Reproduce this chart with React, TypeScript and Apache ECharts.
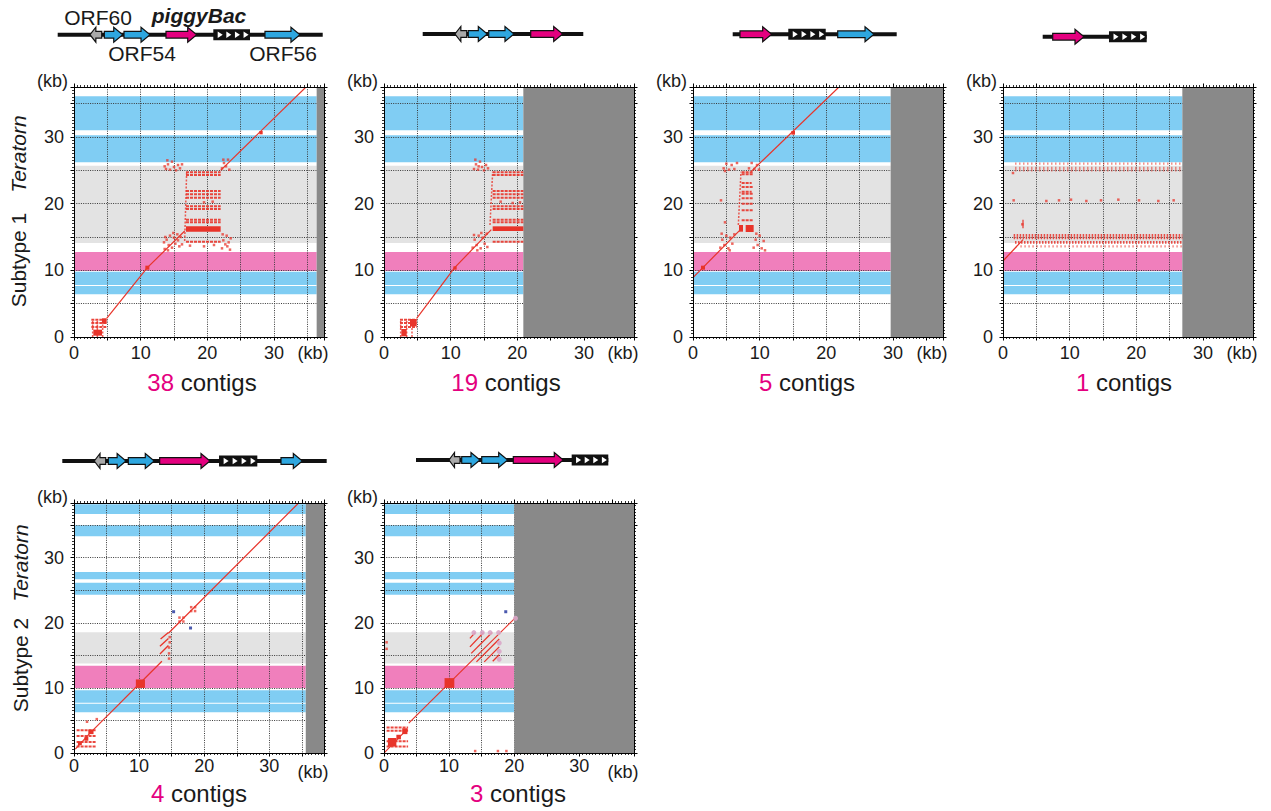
import React, { useEffect, useRef } from 'react';
import * as echarts from 'echarts';

const FONT = '"Liberation Sans", Arial, Helvetica, sans-serif';
const INK = '#1a1a1a';
const RED = '#e8342a';
const MAGENTA = '#e4007f';
const BAND_COLORS = ['#80cdf3', '#f07fbc', '#e3e3e3'];
const GENE_COLORS: Record<string, string> = { gray: '#a9a9a9', blue: '#2ea7e0', pink: '#e4007f' };

// ---------- reference annotation bands (kb on the Teratorn axis) ----------
const sub1Blue = [[6.4, 7.65], [7.8, 9.8], [26.2, 30.25], [31.0, 36.1]];
const sub1Pink = [[9.9, 12.75]];
const sub1Gray = [[14.1, 25.7]];
const sub2Blue = [[6.26, 7.55], [7.7, 9.64], [24.3, 26.15], [26.7, 27.8], [33.3, 35.0], [36.7, 38.2]];
const sub2Pink = [[10.0, 13.4]];
const sub2Gray = [[13.74, 18.56]];

const tickLabels = [0, 10, 20, 30];
const contigCounts = [38, 19, 5, 1, 4, 3];
const contigEnds = [36.4, 20.9, 29.65, 26.9, 35.6, 20.0]; // contig length (kb) before grey fill

// ---------- dot-plot hits ----------
// segments [x1, y1, x2, y2]; repeats [x1, x2, y]; blocks [x1, y1, x2, y2]; dots [x, y]
const p1Diag = [[4.9, 2.8, 11.0, 10.4], [11.0, 10.4, 16.6, 15.9], [22.0, 25.0, 34.8, 37.5]];
const p1Chain = [[16.6, 14.4, 16.9, 24.8], [2.8, 0.0, 2.8, 2.7], [3.5, 0.0, 3.5, 2.7], [4.3, 0.0, 4.3, 2.7]];
const p1Repeat = [[16.8, 22.0, 24.7], [16.8, 22.0, 24.3], [16.8, 22.0, 21.9], [16.8, 22.0, 21.4], [16.8, 22.0, 20.9], [16.8, 22.0, 19.6], [16.8, 22.0, 19.2], [16.8, 22.0, 17.6], [16.8, 22.0, 17.2], [16.8, 22.0, 14.3], [2.6, 4.9, 2.6], [2.6, 4.9, 2.1], [2.6, 4.9, 1.5]];
const p1Block = [[16.8, 15.8, 22.0, 16.6], [2.9, 0.2, 4.2, 1.1], [4.2, 2.0, 4.9, 2.8], [10.7, 10.1, 11.3, 10.7], [27.8, 30.4, 28.3, 30.9]];
const p1Dots = [[13.6, 13.2], [13.9, 14.6], [14.2, 13.8], [14.4, 15.2], [14.7, 13.4], [15.0, 14.9], [15.2, 14.0], [15.5, 15.4], [15.8, 13.6], [13.7, 15.0], [14.9, 15.6], [15.6, 14.5], [14.1, 13.0], [13.5, 14.2], [16.2, 13.9], [16.0, 15.0],
  [13.8, 25.2], [14.1, 25.9], [14.4, 25.1], [14.7, 26.3], [15.0, 25.5], [15.3, 25.0], [15.6, 25.8], [15.9, 25.3], [14.0, 26.5], [13.6, 25.6], [16.2, 25.9],
  [22.2, 13.3], [22.4, 14.5], [22.7, 13.9], [22.9, 15.2], [23.2, 14.2], [23.4, 13.1], [22.3, 15.4], [23.0, 13.6], [23.5, 14.8],
  [22.2, 25.3], [22.5, 26.1], [22.8, 25.6], [23.1, 26.6], [23.3, 25.1], [22.4, 26.6], [17.4, 13.7], [19.5, 13.6], [21.0, 13.8], [19.5, 20.2], [20.8, 20.3]];

const p2Diag = [[4.9, 2.8, 10.6, 10.4], [10.6, 10.4, 16.1, 16.1]];
const p2Chain = [[15.9, 16.8, 16.3, 24.8], [2.5, 0.0, 2.5, 2.7], [3.4, 0.0, 3.4, 2.7], [4.2, 0.0, 4.2, 2.7]];
const p2Repeat = [[16.3, 20.9, 24.7], [16.3, 20.9, 24.3], [16.3, 20.9, 21.9], [16.3, 20.9, 21.4], [16.3, 20.9, 20.9], [16.3, 20.9, 19.6], [16.3, 20.9, 19.2], [16.3, 20.9, 17.6], [16.3, 20.9, 17.2], [16.3, 20.9, 14.3], [2.4, 4.9, 2.6], [2.4, 4.9, 2.1], [2.4, 4.9, 1.5]];
const p2Block = [[16.3, 15.9, 20.9, 16.6], [2.6, 0.1, 3.4, 1.2], [3.9, 1.6, 4.9, 2.7], [10.4, 10.1, 10.9, 10.6]];
const p2Dots = [[13.3, 13.4], [13.6, 14.6], [13.9, 13.8], [14.2, 15.2], [14.5, 13.3], [14.8, 14.9], [15.1, 14.0], [15.4, 15.5], [13.5, 15.3], [14.6, 15.6], [15.5, 13.5], [14.0, 13.0],
  [13.5, 25.2], [13.8, 25.9], [14.1, 25.1], [14.4, 26.3], [14.7, 25.5], [15.0, 25.0], [15.3, 25.8], [15.6, 25.3], [13.7, 26.6], [14.2, 25.6], [19.3, 20.1], [20.4, 20.2], [17.5, 20.3]];

const p3Diag = [[0.0, 8.9, 7.0, 16.0], [8.7, 24.8, 21.9, 37.5]];
const p3Chain = [[6.8, 16.8, 7.2, 24.8]];
const p3Repeat = [[7.3, 9.0, 24.7], [7.3, 9.0, 24.4], [7.3, 8.8, 23.1], [7.3, 9.0, 22.5], [7.3, 8.8, 21.8], [7.3, 9.0, 21.5], [7.3, 9.0, 20.8], [7.3, 9.0, 20.0], [7.3, 9.0, 19.0], [7.3, 9.0, 17.5]];
const p3Block = [[6.9, 15.8, 7.5, 16.8], [7.9, 15.75, 9.1, 16.8], [1.2, 10.1, 1.8, 10.7], [14.75, 30.35, 15.3, 30.9]];
const p3Dots = [[4.1, 13.4], [4.4, 14.6], [4.7, 13.8], [5.0, 15.2], [5.3, 13.3], [5.6, 14.9], [5.9, 14.0], [6.2, 15.4], [4.3, 15.5], [5.5, 13.0],
  [4.6, 25.3], [5.0, 26.0], [5.4, 25.1], [5.8, 25.8], [6.2, 25.2], [6.6, 26.1], [4.8, 24.9],
  [9.1, 13.4], [9.4, 14.6], [9.7, 13.8], [10.0, 15.2], [10.3, 13.3], [10.6, 14.4], [9.5, 15.5], [10.8, 13.0],
  [8.4, 25.3], [8.8, 26.1], [9.2, 25.2], [9.6, 25.8], [9.9, 25.1], [4.2, 20.5], [4.8, 17.2]];

const p4Diag = [[0.0, 11.4, 3.0, 14.6], [3.0, 16.3, 3.0, 17.6]];
const p4RowsDense = [[1.6, 26.9, 15.25], [1.6, 26.9, 14.85], [1.8, 26.9, 14.2]];
const p4RowsLight = [[2.6, 26.9, 13.6], [1.8, 26.9, 25.35], [1.8, 26.9, 25.0], [1.8, 26.9, 26.0]];
const p4Dots = [[1.6, 20.5], [6.5, 20.4], [8.4, 20.5], [10.2, 20.6], [12.5, 20.4], [14.7, 20.5], [17.3, 20.6], [20.4, 20.5], [23.3, 20.4], [25.6, 20.5], [2.9, 16.9], [1.5, 24.6]];

const p5Diag = [[0.2, 0.6, 2.5, 3.1], [2.5, 3.1, 13.5, 14.1], [14.5, 18.4, 34.5, 38.4]];
const p5Hatch = [[13.2, 15.2, 14.5, 16.5], [13.2, 16.4, 14.5, 17.6], [13.3, 17.5, 14.5, 18.5]];
const p5Repeat = [[0.4, 3.4, 3.5], [0.4, 3.4, 2.6], [0.4, 3.4, 1.7], [0.4, 3.4, 1.0]];
const p5Block = [[9.5, 10.0, 10.9, 11.3], [0.6, 1.2, 1.2, 1.8], [1.6, 1.9, 2.2, 2.5], [2.2, 2.9, 3.0, 3.6]];
const p5Dots = [[14.6, 14.5], [14.6, 15.3], [14.6, 16.2], [14.7, 17.0], [14.7, 17.8], [16.2, 20.2], [16.8, 20.8], [16.2, 20.8], [16.8, 20.2], [18.0, 21.8], [18.6, 22.4], [18.0, 22.4], [18.6, 21.8], [2.0, 4.8], [3.5, 5.2]];
const p5Blue = [[15.3, 21.7], [17.9, 19.2]];

const p6Diag = [[0.0, 0.0, 3.6, 3.7], [3.8, 4.6, 20.2, 20.8]];
const p6Hatch = [[13.2, 17.6, 14.0, 18.5], [13.2, 16.3, 15.3, 18.5], [13.4, 15.3, 16.6, 18.5], [14.2, 14.0, 17.7, 17.5], [15.4, 14.0, 17.7, 16.3], [16.7, 14.1, 17.7, 15.1]];
const p6Repeat = [[0.4, 3.7, 3.9], [0.4, 3.7, 3.4], [0.4, 3.7, 1.8], [0.4, 3.7, 1.0]];
const p6Block = [[9.3, 10.0, 10.8, 11.5], [0.6, 1.0, 1.9, 2.3], [1.9, 2.1, 2.6, 2.8], [2.8, 2.9, 3.6, 3.8]];
const p6Rings = [[13.8, 18.5], [15.1, 18.5], [16.3, 18.5], [17.6, 18.5], [17.7, 16.9], [17.7, 15.6], [17.7, 14.4], [20.2, 20.7]];
const p6Dots = [[14.0, 0.3], [17.5, 0.3], [18.8, 0.3], [0.4, 17.0], [0.4, 16.0]];
const p6Blue = [[18.7, 21.7]];

// ---------- gene maps above each plot (kb along the element) ----------
type Gene = [number, number, string];
const map1Len = 37.86;
const map1Genes: Gene[] = [[4.61, 6.29, 'gray'], [6.66, 9.29, 'blue'], [9.47, 13.19, 'blue'], [15.47, 19.86, 'pink'], [22.23, 27.47, 'tir'], [29.61, 34.61, 'blue']];
const map2Len = 22.94;
const map2Genes: Gene[] = [[4.61, 6.29, 'gray'], [6.51, 9.23, 'blue'], [9.43, 13.04, 'blue'], [15.43, 20.0, 'pink']];
const map3Len = 23.43;
const map3Genes: Gene[] = [[1.04, 5.57, 'pink'], [7.94, 13.29, 'tir'], [15.0, 20.19, 'blue']];
const map4Len = 14.86;
const map4Genes: Gene[] = [[1.43, 5.9, 'pink'], [9.47, 14.86, 'tir']];
const map5Len = 37.77;
const map5Genes: Gene[] = [[4.57, 6.2, 'gray'], [6.57, 9.1, 'blue'], [9.43, 13.14, 'blue'], [13.91, 21.1, 'pink'], [22.39, 27.86, 'tir'], [31.24, 34.29, 'blue']];
const map6Len = 27.47;
const map6Genes: Gene[] = [[4.71, 6.29, 'gray'], [6.53, 9.14, 'blue'], [9.39, 13.1, 'blue'], [13.9, 21.04, 'pink'], [22.24, 27.47, 'tir']];

const PX_PER_KB = 7;

const bandRows = (blue: number[][], pink: number[][], gray: number[][]) => [
  ...blue.map((r) => [r[0], r[1], 0]),
  ...pink.map((r) => [r[0], r[1], 1]),
  ...gray.map((r) => [r[0], r[1], 2]),
];
const sub1Bands = bandRows(sub1Blue, sub1Pink, sub1Gray);
const sub2Bands = bandRows(sub2Blue, sub2Pink, sub2Gray);
const rep = (rows: number[][]) => rows.map(([a, b, y]) => [a, y, b, y]);

const panels = [
  { left: 74, top: 87, range: 37.5, bands: sub1Bands, diag: p1Diag, chain: p1Chain, hatch: [], repeat: rep(p1Repeat), block: p1Block, dots: p1Dots, blue: [], rings: [], rowsDense: [], rowsLight: [], labelX: 202, labelY: 382, xMargin: 7, map: [57.7, 34.7, map1Len, map1Genes] },
  { left: 384, top: 87, range: 37.5, bands: sub1Bands, diag: p2Diag, chain: p2Chain, hatch: [], repeat: rep(p2Repeat), block: p2Block, dots: p2Dots, blue: [], rings: [], rowsDense: [], rowsLight: [], labelX: 506, labelY: 382, xMargin: 7, map: [422.7, 34, map2Len, map2Genes] },
  { left: 693, top: 87, range: 37.5, bands: sub1Bands, diag: p3Diag, chain: p3Chain, hatch: [], repeat: rep(p3Repeat), block: p3Block, dots: p3Dots, blue: [], rings: [], rowsDense: [], rowsLight: [], labelX: 807, labelY: 382, xMargin: 7, map: [732.7, 34.3, map3Len, map3Genes] },
  { left: 1003, top: 87, range: 37.5, bands: sub1Bands, diag: p4Diag, chain: [], hatch: [], repeat: [], block: [], dots: p4Dots, blue: [], rings: [], rowsDense: rep(p4RowsDense), rowsLight: rep(p4RowsLight), labelX: 1124, labelY: 382, xMargin: 7, map: [1042.7, 36.7, map4Len, map4Genes] },
  { left: 74, top: 503, range: 38.4, bands: sub2Bands, diag: p5Diag, chain: [], hatch: p5Hatch, repeat: rep(p5Repeat), block: p5Block, dots: p5Dots, blue: p5Blue, rings: [], rowsDense: [], rowsLight: [], labelX: 199, labelY: 793, xMargin: 4, map: [62.3, 461, map5Len, map5Genes] },
  { left: 384, top: 503, range: 38.4, bands: sub2Bands, diag: p6Diag, chain: [], hatch: p6Hatch, repeat: rep(p6Repeat), block: p6Block, dots: p6Dots, blue: p6Blue, rings: p6Rings, rowsDense: [], rowsLight: [], labelX: 518, labelY: 793, xMargin: 4, map: [416, 460, map6Len, map6Genes] },
];

const SIZE = 250;

function labelFmt(v: number) {
  return tickLabels.includes(v) ? String(v) : '';
}

function frameAxis(gi: number, pos: string, range: number, showLabel: boolean, margin: number) {
  return {
    type: 'value', gridIndex: gi, position: pos, min: 0, max: range, interval: 5, z: 6,
    axisLine: { show: true, onZero: false, lineStyle: { color: '#000', width: 1 } },
    axisTick: { show: true, inside: false, length: 3.5, lineStyle: { color: '#000', width: 1 } },
    minorTick: { show: true, splitNumber: 10, length: 2, lineStyle: { color: '#000', width: 0.8 } },
    splitLine: { show: false },
    axisLabel: { show: showLabel, margin, formatter: labelFmt, fontSize: 18, color: INK, fontFamily: FONT, showMinLabel: true, showMaxLabel: false, hideOverlap: false },
  };
}

function gridAxis(gi: number, range: number) {
  return {
    type: 'value', gridIndex: gi, min: 0, max: range, interval: 5, z: 2,
    axisLine: { show: false }, axisTick: { show: false }, axisLabel: { show: false },
    splitLine: { show: true, showMinLine: false, showMaxLine: false, lineStyle: { color: '#3a3a3a', width: 1, type: [1, 1.3] } },
  };
}

function segSeries(gi: number, data: number[][], style: any, z: number) {
  return {
    type: 'custom', xAxisIndex: 3 * gi, yAxisIndex: 3 * gi, z, silent: true, clip: true, data,
    renderItem: (_p: any, api: any) => {
      const a = api.coord([api.value(0), api.value(1)]);
      const b = api.coord([api.value(2), api.value(3)]);
      return { type: 'line', shape: { x1: a[0], y1: a[1], x2: b[0], y2: b[1] }, style };
    },
  };
}

function rectSeries(gi: number, data: number[][], fill: string, z: number) {
  return {
    type: 'custom', xAxisIndex: 3 * gi, yAxisIndex: 3 * gi, z, silent: true, clip: true, data,
    renderItem: (_p: any, api: any) => {
      const a = api.coord([api.value(0), api.value(3)]);
      const b = api.coord([api.value(2), api.value(1)]);
      return { type: 'rect', shape: { x: a[0], y: a[1], width: b[0] - a[0], height: b[1] - a[1] }, style: { fill } };
    },
  };
}

function geneDiagram(x0: number, y0: number, len: number, genes: Gene[]) {
  const els: any[] = [];
  els.push({ type: 'rect', shape: { x: x0, y: y0 - 2, width: len * PX_PER_KB, height: 4 }, style: { fill: '#111' } });
  for (const [a, b, kind] of genes) {
    const xa = x0 + a * PX_PER_KB;
    const xb = x0 + b * PX_PER_KB;
    if (kind === 'tir') {
      const w = xb - xa;
      els.push({ type: 'rect', shape: { x: xa, y: y0 - 5.5, width: w, height: 11 }, style: { fill: '#111' } });
      for (let i = 0; i < 4; i++) {
        const s = xa + 0.12 * w + i * 0.235 * w;
        els.push({ type: 'polygon', shape: { points: [[s, y0 - 3.3], [s + 5, y0], [s, y0 + 3.3]] }, style: { fill: '#fff' } });
      }
    } else {
      const head = Math.min(9, (xb - xa) * 0.5);
      const bh = 3.4;
      const hh = 7.5;
      const pts = kind === 'gray'
        ? [[xb, y0 - bh], [xa + head, y0 - bh], [xa + head, y0 - hh], [xa, y0], [xa + head, y0 + hh], [xa + head, y0 + bh], [xb, y0 + bh]]
        : [[xa, y0 - bh], [xb - head, y0 - bh], [xb - head, y0 - hh], [xb, y0], [xb - head, y0 + hh], [xb - head, y0 + bh], [xa, y0 + bh]];
      els.push({ type: 'polygon', shape: { points: pts }, style: { fill: GENE_COLORS[kind], stroke: '#111', lineWidth: 1.2 } });
    }
  }
  return els;
}

function text(t: string, x: number, y: number, o: any = {}) {
  return {
    type: 'text', x, y, rotation: o.rotation || 0, z: 10,
    style: {
      text: t, fill: INK, fontSize: o.size || 18, fontFamily: FONT,
      fontStyle: o.italic ? 'italic' : 'normal', fontWeight: o.bold ? 'bold' : 'normal',
      align: o.align || 'center', verticalAlign: 'middle', rich: o.rich,
    },
  };
}

function buildOption() {
  const grid: any[] = [];
  const xAxis: any[] = [];
  const yAxis: any[] = [];
  const series: any[] = [];
  const graphic: any[] = [];

  panels.forEach((p, gi) => {
    const xMax = contigEnds[gi];
    const R = p.range;
    grid.push({ left: p.left, top: p.top, width: SIZE, height: SIZE, containLabel: false });
    xAxis.push(frameAxis(gi, 'bottom', R, true, p.xMargin), frameAxis(gi, 'top', R, false, 0), gridAxis(gi, R));
    yAxis.push(frameAxis(gi, 'left', R, true, 10), frameAxis(gi, 'right', R, false, 0), gridAxis(gi, R));

    // annotation bands
    series.push({
      type: 'custom', xAxisIndex: 3 * gi, yAxisIndex: 3 * gi, z: 1, silent: true, data: p.bands,
      renderItem: (_q: any, api: any) => {
        const a = api.coord([0, api.value(1)]);
        const b = api.coord([xMax, api.value(0)]);
        return { type: 'rect', shape: { x: a[0], y: a[1], width: b[0] - a[0], height: b[1] - a[1] }, style: { fill: BAND_COLORS[api.value(2)] } };
      },
    });
    // grey fill beyond contig end
    series.push({
      type: 'custom', xAxisIndex: 3 * gi, yAxisIndex: 3 * gi, z: 3, silent: true, data: [[xMax, R]],
      renderItem: (_q: any, api: any) => {
        const a = api.coord([api.value(0), api.value(1)]);
        const b = api.coord([R, 0]);
        return { type: 'rect', shape: { x: a[0], y: a[1], width: b[0] - a[0], height: b[1] - a[1] }, style: { fill: '#898989' } };
      },
    });
    series.push(segSeries(gi, p.diag, { stroke: RED, lineWidth: 1.2 }, 4));
    series.push(segSeries(gi, p.hatch, { stroke: RED, lineWidth: 1.3 }, 4));
    series.push(segSeries(gi, p.chain, { stroke: RED, lineWidth: 1.5, lineDash: [2, 1.5], opacity: 0.8 }, 4));
    series.push(segSeries(gi, p.repeat, { stroke: RED, lineWidth: 2, lineDash: [3, 1], opacity: 0.9 }, 4));
    series.push(segSeries(gi, p.rowsDense, { stroke: RED, lineWidth: 2.6, lineDash: [1.5, 1.5], opacity: 0.85 }, 4));
    series.push(segSeries(gi, p.rowsLight, { stroke: RED, lineWidth: 2.4, lineDash: [1.5, 2.5], opacity: 0.55 }, 4));
    series.push(rectSeries(gi, p.block, RED, 4));
    series.push({ type: 'scatter', xAxisIndex: 3 * gi, yAxisIndex: 3 * gi, z: 4, silent: true, symbol: 'rect', symbolSize: 2.5, itemStyle: { color: RED, opacity: 0.75 }, data: p.dots });
    series.push({ type: 'scatter', xAxisIndex: 3 * gi, yAxisIndex: 3 * gi, z: 4, silent: true, symbol: 'circle', symbolSize: 5, itemStyle: { color: '#d9a6c8', opacity: 0.9 }, data: p.rings });
    series.push({ type: 'scatter', xAxisIndex: 3 * gi, yAxisIndex: 3 * gi, z: 4, silent: true, symbol: 'rect', symbolSize: 3, itemStyle: { color: '#1d2f9a' }, data: p.blue });

    // unit labels
    graphic.push(text('(kb)', p.left - 6, p.top - 6, { align: 'right' }));
    graphic.push(text('(kb)', p.left + 239, p.top + SIZE + p.xMargin + 9 + (gi >= 4 ? 6 : 0)));
    // contig count
    graphic.push(text(`{n|${contigCounts[gi]}} contigs`, p.labelX, p.labelY, {
      size: 24,
      rich: { n: { fill: MAGENTA, fontSize: 24, fontFamily: FONT } },
    }));
    const [mx, my, ml, mg] = p.map as [number, number, number, Gene[]];
    graphic.push(...geneDiagram(mx, my, ml, mg));
  });

  // subtype labels
  graphic.push(text('Subtype 1', 18, 260, { size: 21, rotation: Math.PI / 2 }));
  graphic.push(text('Teratorn', 18, 154, { size: 21, rotation: Math.PI / 2, italic: true }));
  graphic.push(text('Subtype 2', 20, 665, { size: 21, rotation: Math.PI / 2 }));
  graphic.push(text('Teratorn', 20, 563, { size: 21, rotation: Math.PI / 2, italic: true }));
  // gene names of the first map
  graphic.push(text('ORF60', 98, 17, { size: 21 }));
  graphic.push(text('piggyBac', 199, 15, { size: 21, bold: true, italic: true }));
  graphic.push(text('ORF54', 142, 53, { size: 21 }));
  graphic.push(text('ORF56', 283, 53, { size: 21 }));

  return { animation: false, backgroundColor: '#fff', grid, xAxis, yAxis, series, graphic };
}

export default function App() {
  const ref = useRef<HTMLDivElement>(null);
  useEffect(() => {
    const chart = echarts.init(ref.current as HTMLDivElement, null, { renderer: 'svg' });
    chart.setOption(buildOption() as any);
    return () => chart.dispose();
  }, []);
  return <div ref={ref} style={{ position: 'absolute', left: 0, top: 0, width: 1271, height: 811, background: '#fff' }} />;
}
